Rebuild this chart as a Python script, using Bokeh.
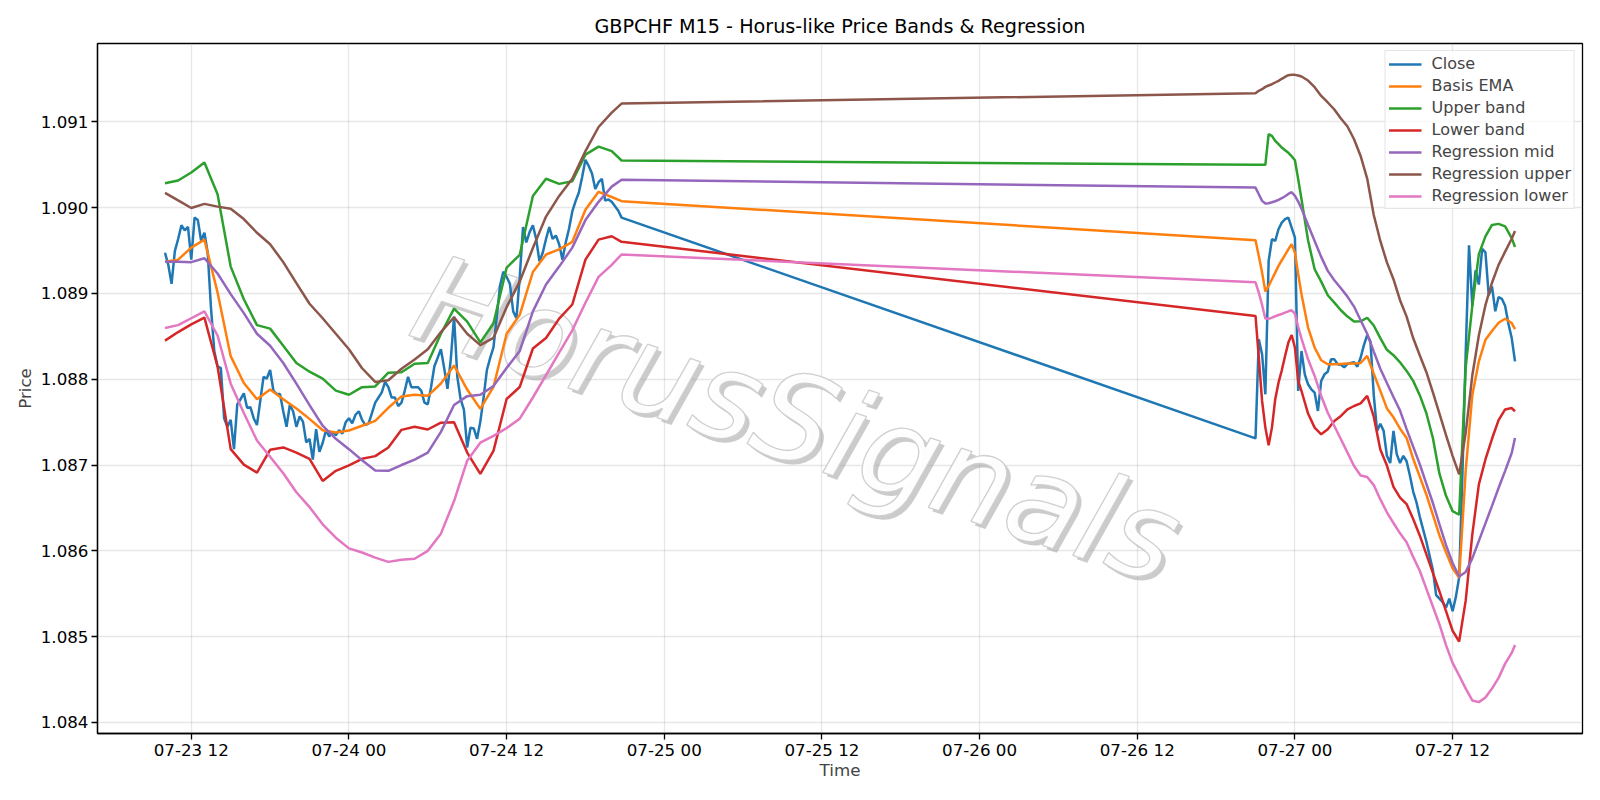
import pandas as pd
from bokeh.plotting import figure
from bokeh.models import Range1d, FixedTicker, DatetimeTickFormatter, PrintfTickFormatter, Text
from bokeh.core.properties import value
from bokeh.embed import file_html
from bokeh.resources import INLINE

# ---------------- data ----------------
close_times = pd.date_range("2020-07-23 10:00", periods=140, freq="15min").append(
    pd.date_range("2020-07-26 21:00", periods=80, freq="15min"))

band_times = (pd.date_range("2020-07-23 10:00", "2020-07-24 20:00", freq="1h")
              .append(pd.DatetimeIndex(["2020-07-24 20:45"]))
              .append(pd.date_range("2020-07-26 21:00", "2020-07-27 00:30", freq="15min"))
              .append(pd.date_range("2020-07-27 01:00", "2020-07-27 16:30", freq="30min"))
              .append(pd.DatetimeIndex(["2020-07-27 16:45"])))

close_1 = [1.089474, 1.089333, 1.089112, 1.089494, 1.089635, 1.089795, 1.089735, 1.089775, 1.089394, 1.089884,
           1.089855, 1.089614, 1.089707, 1.089474, 1.088831, 1.088329, 1.088149, 1.088129, 1.087546, 1.087446,
           1.087526, 1.087185, 1.087707, 1.087767, 1.087835, 1.087667, 1.087675, 1.087546, 1.087466, 1.087747,
           1.088028, 1.088008, 1.088108, 1.087868, 1.087827, 1.087827, 1.087627, 1.087446, 1.087699, 1.087627,
           1.087446, 1.087566, 1.087506, 1.087265, 1.087305, 1.087064, 1.087418, 1.087153, 1.087257, 1.087406,
           1.087333, 1.087386, 1.087345, 1.087406, 1.087366, 1.087498, 1.087546, 1.087486, 1.087586, 1.087627,
           1.087526, 1.087466, 1.087486, 1.087606, 1.087727, 1.087787, 1.087847, 1.087968, 1.087908, 1.087787,
           1.087787, 1.087687, 1.087727, 1.087868, 1.088028, 1.087908, 1.087908, 1.087908, 1.087868, 1.087727,
           1.087707, 1.087908, 1.088149, 1.088249, 1.088349, 1.088129, 1.087888, 1.088229, 1.088731, 1.088028,
           1.087767, 1.087647, 1.087205, 1.087434, 1.087426, 1.087305, 1.087506, 1.087787, 1.088108, 1.088249,
           1.088370, 1.088731, 1.089092, 1.089253, 1.089193, 1.089112, 1.088791, 1.088711, 1.089193, 1.089775,
           1.089594, 1.089715, 1.089795, 1.089635, 1.089374, 1.089474, 1.089635, 1.089775, 1.089635, 1.089675,
           1.089574, 1.089394, 1.089594, 1.089755, 1.089956, 1.090076, 1.090177, 1.090357, 1.090558, 1.090486,
           1.090398, 1.090217, 1.090297, 1.090337, 1.090084, 1.090096, 1.090068, 1.090016, 1.089964, 1.089884]
close_2 = [1.087311, 1.088466, 1.088291, 1.087824, 1.089379, 1.089632, 1.089612, 1.089748, 1.089826, 1.089865,
           1.089884, 1.089768, 1.089651, 1.087863, 1.088329, 1.088057, 1.087941, 1.087882, 1.087844, 1.087630,
           1.087980, 1.088057, 1.088088, 1.088232, 1.088232, 1.088174, 1.088168, 1.088139, 1.088180, 1.088189,
           1.088197, 1.088147, 1.088251, 1.088397, 1.088513, 1.088438, 1.087814, 1.087398, 1.087481, 1.087398,
           1.087107, 1.087023, 1.087398, 1.087127, 1.087023, 1.087107, 1.087044, 1.086878, 1.086690, 1.086566,
           1.086399, 1.086253, 1.086108, 1.085941, 1.085775, 1.085484, 1.085442, 1.085400, 1.085338, 1.085442,
           1.085296, 1.085463, 1.085692, 1.086898, 1.088313, 1.089562, 1.088854, 1.089270, 1.089104, 1.089520,
           1.089479, 1.088979, 1.089083, 1.088792, 1.088958, 1.088938, 1.088854, 1.088646, 1.088480, 1.088209]

basis_1 = [1.089369, 1.089394, 1.089534, 1.089627, 1.089012, 1.088269, 1.087956, 1.087767, 1.087880, 1.087767,
           1.087659, 1.087538, 1.087406, 1.087378, 1.087402, 1.087458, 1.087514, 1.087667, 1.087800, 1.087819,
           1.087807, 1.087950, 1.088161, 1.087880, 1.087655, 1.087910, 1.088530, 1.088750, 1.089250, 1.089454,
           1.089514, 1.089602, 1.089976, 1.090185, 1.090124, 1.090076]
basis_2 = [1.089620, 1.089437, 1.089243, 1.089022, 1.089088, 1.089165, 1.089243, 1.089321, 1.089387, 1.089449,
           1.089515, 1.089573, 1.089476, 1.089224, 1.088990,
           1.088602, 1.088369, 1.088221, 1.088174, 1.088174, 1.088178, 1.088182, 1.088182, 1.088189, 1.088272,
           1.088064, 1.087864, 1.087660, 1.087556, 1.087423, 1.087315, 1.087073, 1.086865, 1.086657, 1.086420,
           1.086179, 1.085983, 1.085796, 1.085684, 1.086940, 1.087814, 1.088209, 1.088459, 1.088563, 1.088659,
           1.088705, 1.088655, 1.088584]

upper_1 = [1.090285, 1.090317, 1.090410, 1.090526, 1.090157, 1.089313, 1.088932, 1.088631, 1.088590, 1.088390,
           1.088189, 1.088088, 1.088008, 1.087867, 1.087819, 1.087908, 1.087916, 1.088076, 1.088082, 1.088181,
           1.088189, 1.088530, 1.088823, 1.088671, 1.088430, 1.088650, 1.089300, 1.089450, 1.090137, 1.090337,
           1.090277, 1.090309, 1.090618, 1.090711, 1.090659, 1.090550]
upper_2 = [1.090499, 1.090499, 1.090499, 1.090499, 1.090856, 1.090837, 1.090778, 1.090740, 1.090701, 1.090670,
           1.090639, 1.090600, 1.090553, 1.090332, 1.090098,
           1.089620, 1.089282, 1.089138, 1.088979, 1.088893, 1.088804, 1.088730, 1.088672, 1.088675, 1.088717,
           1.088626, 1.088480, 1.088343, 1.088280, 1.088197, 1.088097, 1.087981, 1.087814, 1.087606, 1.087315,
           1.086899, 1.086641, 1.086462, 1.086420, 1.088140, 1.088854, 1.089458, 1.089666, 1.089799, 1.089811,
           1.089782, 1.089645, 1.089541]

lower_1 = [1.088450, 1.088550, 1.088639, 1.088719, 1.088149, 1.087185, 1.087004, 1.086912, 1.087177, 1.087205,
           1.087145, 1.087072, 1.086815, 1.086932, 1.086996, 1.087072, 1.087104, 1.087205, 1.087410, 1.087446,
           1.087414, 1.087494, 1.087498, 1.087145, 1.086896, 1.087165, 1.087770, 1.087910, 1.088358, 1.088480,
           1.088706, 1.088871, 1.089394, 1.089627, 1.089667, 1.089602]
lower_2 = [1.088738, 1.088252, 1.087747, 1.087436, 1.087230, 1.087436, 1.087766, 1.087960, 1.088104, 1.088271,
           1.088427, 1.088516, 1.088368, 1.087980, 1.087863,
           1.087600, 1.087436, 1.087358, 1.087416, 1.087513, 1.087572, 1.087649, 1.087688, 1.087718, 1.087806,
           1.087564, 1.087182, 1.086994, 1.086745, 1.086620, 1.086545, 1.086370, 1.086179, 1.085962, 1.085742,
           1.085526, 1.085297, 1.085068, 1.084943, 1.085422, 1.086191, 1.086774, 1.087065, 1.087306, 1.087523,
           1.087648, 1.087664, 1.087627]

reg_mid_1 = [1.089369, 1.089369, 1.089365, 1.089410, 1.089233, 1.088992, 1.088771, 1.088530, 1.088390, 1.088189,
             1.087948, 1.087699, 1.087458, 1.087305, 1.087185, 1.087056, 1.086936, 1.086932, 1.087000, 1.087064,
             1.087145, 1.087386, 1.087700, 1.087803, 1.087819, 1.087920, 1.088130, 1.088329, 1.088791, 1.089104,
             1.089313, 1.089534, 1.089855, 1.090068, 1.090245, 1.090325]
reg_mid_2 = [1.090234, 1.090156, 1.090079, 1.090048, 1.090052, 1.090063, 1.090075, 1.090090, 1.090110, 1.090133,
             1.090160, 1.090180, 1.090137, 1.090071, 1.089989,
             1.089799, 1.089612, 1.089426, 1.089263, 1.089154, 1.089060, 1.088963, 1.088847, 1.088688, 1.088530,
             1.088322, 1.088122, 1.087956, 1.087793, 1.087635, 1.087419, 1.087215, 1.087011, 1.086782, 1.086557,
             1.086308, 1.086066, 1.085858, 1.085700, 1.085754, 1.085912, 1.086116, 1.086320, 1.086524, 1.086732,
             1.086932, 1.087140, 1.087315]

reg_upper_1 = [1.090173, 1.090084, 1.089996, 1.090044, 1.090012, 1.089988, 1.089867, 1.089707, 1.089574, 1.089365,
               1.089120, 1.088880, 1.088711, 1.088530, 1.088349, 1.088128, 1.087968, 1.087988, 1.088122, 1.088229,
               1.088349, 1.088550, 1.088723, 1.088530, 1.088398, 1.088483, 1.088840, 1.089140, 1.089530, 1.089896,
               1.090137, 1.090337, 1.090659, 1.090940, 1.091108, 1.091213]
reg_upper_2 = [1.091334, 1.091362, 1.091381, 1.091408, 1.091424, 1.091439, 1.091459, 1.091478, 1.091502, 1.091525,
               1.091544, 1.091548, 1.091548, 1.091541, 1.091529,
               1.091482, 1.091404, 1.091303, 1.091226, 1.091144, 1.091039, 1.090946, 1.090798, 1.090603, 1.090339,
               1.089915, 1.089612, 1.089362, 1.089166, 1.088921, 1.088730, 1.088480, 1.088280, 1.088085, 1.087847,
               1.087598, 1.087348, 1.087107, 1.086890, 1.087377, 1.088043, 1.088513, 1.088863, 1.089125, 1.089333,
               1.089487, 1.089637, 1.089728]

reg_lower_1 = [1.088598, 1.088631, 1.088711, 1.088791, 1.088510, 1.087948, 1.087606, 1.087285, 1.087096, 1.086904,
               1.086683, 1.086510, 1.086309, 1.086153, 1.086028, 1.085980, 1.085920, 1.085871, 1.085896, 1.085908,
               1.086000, 1.086200, 1.086580, 1.087050, 1.087260, 1.087340, 1.087430, 1.087540, 1.087787, 1.088048,
               1.088309, 1.088570, 1.088892, 1.089193, 1.089333, 1.089454]
reg_lower_2 = [1.089130, 1.089010, 1.088866, 1.088707, 1.088703, 1.088718, 1.088734, 1.088749, 1.088761, 1.088777,
               1.088792, 1.088804, 1.088765, 1.088609, 1.088473,
               1.088232, 1.088038, 1.087805, 1.087610, 1.087455, 1.087300, 1.087144, 1.086989, 1.086878, 1.086861,
               1.086766, 1.086599, 1.086449, 1.086324, 1.086204, 1.086100, 1.085929, 1.085767, 1.085559, 1.085351,
               1.085143, 1.084901, 1.084693, 1.084547, 1.084394, 1.084256, 1.084236, 1.084290, 1.084394, 1.084519,
               1.084685, 1.084810, 1.084901]

y_ticks = [1.084, 1.085, 1.086, 1.087, 1.088, 1.089, 1.090, 1.091]
x_ticks = pd.date_range("2020-07-23 12:00", "2020-07-27 12:00", freq="12h")

series = [
    ("Close", close_times, close_1 + close_2, "#1f77b4"),
    ("Basis EMA", band_times, basis_1 + basis_2, "#ff7f0e"),
    ("Upper band", band_times, upper_1 + upper_2, "#2ca02c"),
    ("Lower band", band_times, lower_1 + lower_2, "#d62728"),
    ("Regression mid", band_times, reg_mid_1 + reg_mid_2, "#9467bd"),
    ("Regression upper", band_times, reg_upper_1 + reg_upper_2, "#8c564b"),
    ("Regression lower", band_times, reg_lower_1 + reg_lower_2, "#e377c2"),
]
for name, t, v, c in series:
    assert len(t) == len(v), (name, len(t), len(v))

# ---------------- ranges ----------------
t0, t1 = close_times[0], close_times[-1]
tpad = (t1 - t0) * 0.05
all_vals = [x for s in series for x in s[2]]
vmin, vmax = min(all_vals), max(all_vals)
vpad = (vmax - vmin) * 0.05

FONT = "DejaVu Sans"
LABEL_SIZE = "16.7px"
p = figure(width=1600, height=800, output_backend="svg", toolbar_location=None,
           x_axis_type="datetime",
           x_range=Range1d(t0 - tpad, t1 + tpad),
           y_range=Range1d(vmin - vpad, vmax + vpad),
           min_border_left=97, min_border_right=18, min_border_top=43, min_border_bottom=67)
p.background_fill_color = "white"
p.border_fill_color = "white"
p.outline_line_color = "black"
p.outline_line_width = 1.3

p.title.text = "GBPCHF M15 - Horus-like Price Bands & Regression"
p.title.align = "center"
p.title.text_font = FONT
p.title.text_font_style = "normal"
p.title.text_font_size = "19.2px"
p.title.text_color = "black"
p.title.standoff = 11

# watermark (drawn first, under the lines)
WM_X = [pd.Timestamp("2020-07-25 10:05")]
WM_Y = [1.08753]
WM_ANGLE = -0.32
front_extra = {}
if "text_outline_color" in Text.properties():
    front_extra = dict(text_outline_color="#cdcdcd")
p.text(x=WM_X, y=WM_Y, text=["HorusSignals"], angle=WM_ANGLE, text_font=value(FONT),
       text_font_style="italic", text_font_size="122px", text_align="center", text_baseline="middle",
       text_color="#a0a0a0", text_alpha=0.55, x_offset=4, y_offset=4)
p.text(x=WM_X, y=WM_Y, text=["HorusSignals"], angle=WM_ANGLE, text_font=value(FONT),
       text_font_style="italic", text_font_size="122px", text_align="center", text_baseline="middle",
       text_color="white", text_alpha=0.95, **front_extra)

for name, t, v, c in series:
    p.line(t, v, line_color=c, line_width=2.5, legend_label=name)

# axes
p.xaxis.ticker = FixedTicker(ticks=[int(t.value // 10**6) for t in x_ticks])
fmt = "%m-%d %H"
p.xaxis.formatter = DatetimeTickFormatter(microseconds=fmt, milliseconds=fmt, seconds=fmt, minsec=fmt,
                                          minutes=fmt, hourmin=fmt, hours=fmt, days=fmt, months=fmt, years=fmt)
p.yaxis.ticker = FixedTicker(ticks=y_ticks)
p.yaxis.formatter = PrintfTickFormatter(format="%.3f")
p.xaxis.axis_label = "Time"
p.yaxis.axis_label = "Price"
for ax in (p.xaxis[0], p.yaxis[0]):
    ax.axis_label_text_font = FONT
    ax.axis_label_text_font_style = "normal"
    ax.axis_label_text_font_size = LABEL_SIZE
    ax.major_label_text_font = FONT
    ax.major_label_text_font_size = LABEL_SIZE
    ax.major_label_text_color = "black"
    ax.axis_line_color = "black"
    ax.axis_line_width = 1.3
    ax.major_tick_line_color = "black"
    ax.major_tick_line_width = 1.3
    ax.major_tick_out = 6
    ax.major_tick_in = 0
    ax.minor_tick_line_color = None
p.xaxis.major_label_standoff = 0
p.yaxis.major_label_standoff = 3
p.xaxis.axis_label_standoff = -3
p.yaxis.axis_label_standoff = 3

for g in (p.xgrid[0], p.ygrid[0]):
    g.grid_line_color = "#b0b0b0"
    g.grid_line_alpha = 0.3
    g.grid_line_width = 1.3

lg = p.legend[0]
lg.location = "top_right"
lg.margin = 7
lg.padding = 3
lg.spacing = 3
lg.label_height = 18
lg.glyph_height = 18
lg.glyph_width = 33
lg.label_standoff = 10
lg.label_text_font = FONT
lg.label_text_font_size = "16px"
lg.border_line_color = "#cccccc"
lg.border_line_width = 1
lg.background_fill_alpha = 0.8

open("out.html", "w").write(file_html(p, INLINE))
